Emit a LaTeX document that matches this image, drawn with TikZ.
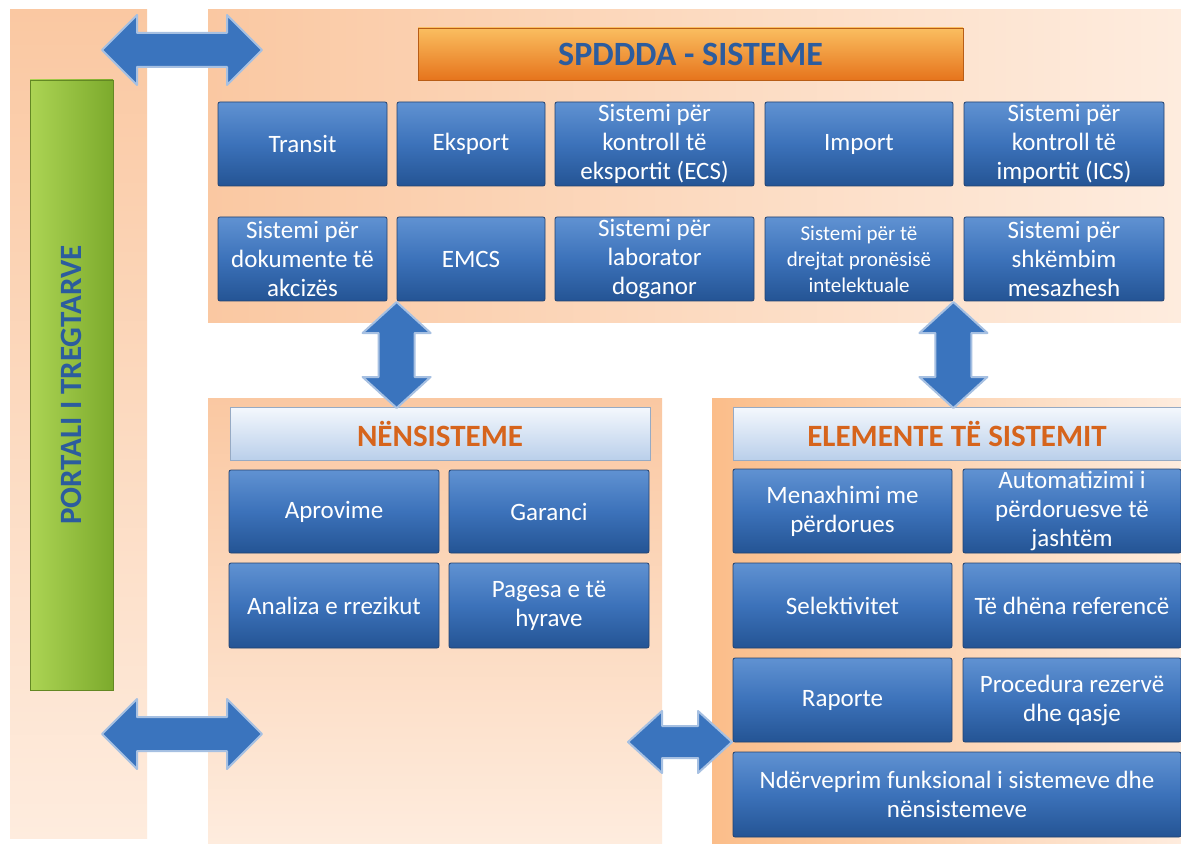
\documentclass[tikz,border=0pt]{standalone}
\usepackage{fontspec}
\setmainfont{Carlito}
\usepackage{xcolor}

\definecolor{peach}{RGB}{250,200,162}
\definecolor{peachlt}{RGB}{254,236,222}
\definecolor{boxtop}{RGB}{96,146,210}
\definecolor{boxmid}{RGB}{60,114,186}
\definecolor{boxbot}{RGB}{36,84,148}
\definecolor{boxline}{RGB}{34,66,112}
\definecolor{headtop}{RGB}{244,248,253}
\definecolor{headbot}{RGB}{186,207,234}
\definecolor{headline}{RGB}{150,170,196}
\definecolor{ortop}{RGB}{250,190,96}
\definecolor{orbot}{RGB}{230,116,28}
\definecolor{greenlt}{RGB}{172,212,84}
\definecolor{greendk}{RGB}{124,170,44}
\definecolor{arrowblue}{RGB}{58,116,190}
\definecolor{titleblue}{RGB}{44,92,158}
\definecolor{titleorange}{RGB}{214,100,28}

\tikzset{
  sysbox/.style={draw=boxline, top color=boxtop, bottom color=boxbot, middle color=boxmid,
    text=white, align=center, inner sep=1pt, rounded corners=1pt,
    font=\fontsize{12.5}{14.5}\selectfont},
  headbox/.style={draw=headline, top color=headtop, bottom color=headbot,
    text=titleorange, inner sep=1pt, font=\fontsize{15.5}{17}\selectfont\bfseries},
  barrow/.style={fill=arrowblue, draw=arrowblue!45!white, line width=1pt, line join=round}
}

\begin{document}
\begin{tikzpicture}[x=0.5pt,y=-0.5pt]
\useasboundingbox (0,0) rectangle (1181,844);
\fill[white] (0,0) rectangle (1181,844);

% panels
\fill[top color=peach, bottom color=peachlt] (10,10) rectangle (147,838);
\fill[left color=peach, right color=peachlt] (208,10) rectangle (1181,322);
\fill[top color=peach, bottom color=peachlt] (208,398) rectangle (662,844);
\fill[left color=peach!85!orange, right color=peachlt] (712,398) rectangle (1181,844);

% portal
\node[draw=greendk!80!black, left color=greenlt, right color=greendk, rotate=90,
  minimum width=305pt, minimum height=41.5pt, inner sep=0pt,
  text=titleblue, font=\fontsize{15.5}{17}\selectfont\bfseries] (portal) at (71.5,385) {PORTALI I TREGTARVE};

% SPDDDA - sisteme
\node[draw=orbot!80!black, top color=ortop, bottom color=orbot, minimum width=272.5pt, minimum height=26pt,
  text=titleblue, font=\fontsize{17}{19}\selectfont\bfseries] (spd) at (690.5,54) {SPDDDA - SISTEME};

\node[sysbox, minimum width=84.5pt, minimum height=42pt] (transit) at (302.5,144) {Transit};
\node[sysbox, minimum width=74pt, minimum height=42pt] (eksport) at (471,144) {Eksport};
\node[sysbox, minimum width=99.5pt, minimum height=42pt] (ecs) at (654.5,144) {Sistemi për\\kontroll të\\eksportit (ECS)};
\node[sysbox, minimum width=94pt, minimum height=42pt] (import) at (859,144) {Import};
\node[sysbox, minimum width=100pt, minimum height=42pt] (ics) at (1064,144) {Sistemi për\\kontroll të\\importit (ICS)};

\node[sysbox, minimum width=84.5pt, minimum height=42pt] (akciza) at (302.5,259) {Sistemi për\\dokumente të\\akcizës};
\node[sysbox, minimum width=74pt, minimum height=42pt] (emcs) at (471,259) {EMCS};
\node[sysbox, minimum width=99.5pt, minimum height=42pt] (lab) at (654.5,259) {Sistemi për\\laborator\\doganor};
\node[sysbox, minimum width=94pt, minimum height=42pt, font=\fontsize{10.5}{13}\selectfont] (ipr) at (859,259) {Sistemi për të\\drejtat pronësisë\\intelektuale};
\node[sysbox, minimum width=100pt, minimum height=42pt] (msg) at (1064,259) {Sistemi për\\shkëmbim\\mesazhesh};

% nensisteme
\node[headbox, minimum width=210pt, minimum height=26.5pt] (nen) at (440,433.5) {NËNSISTEME};
\node[sysbox, minimum width=105pt, minimum height=41.5pt] (aprov) at (334,511.5) {Aprovime};
\node[sysbox, minimum width=100pt, minimum height=41.5pt] (garanci) at (549,511.5) {Garanci};
\node[sysbox, minimum width=105pt, minimum height=42.5pt] (rrezik) at (334,605.5) {Analiza e rrezikut};
\node[sysbox, minimum width=100pt, minimum height=42.5pt] (pagesa) at (549,605.5) {Pagesa e të\\hyrave};

% elemente te sistemit
\node[headbox, minimum width=224pt, minimum height=26.5pt] (elem) at (957,433.5) {ELEMENTE TË SISTEMIT};
\node[sysbox, minimum width=109.5pt, minimum height=42pt] (menax) at (842.5,511) {Menaxhimi me\\përdorues};
\node[sysbox, minimum width=109pt, minimum height=42pt] (autom) at (1072,511) {Automatizimi i\\përdoruesve të\\jashtëm};
\node[sysbox, minimum width=109.5pt, minimum height=42.5pt] (selekt) at (842.5,605.5) {Selektivitet};
\node[sysbox, minimum width=109pt, minimum height=42.5pt] (refer) at (1072,605.5) {Të dhëna referencë};
\node[sysbox, minimum width=109.5pt, minimum height=42pt] (raport) at (842.5,700) {Raporte};
\node[sysbox, minimum width=109pt, minimum height=42pt] (rezerv) at (1072,700) {Procedura rezervë\\dhe qasje};
\node[sysbox, minimum width=224pt, minimum height=42.5pt] (nderv) at (957,794.5) {Ndërveprim funksional i sistemeve dhe\\nënsistemeve};

% block arrows
\coordinate (a1) at (182,50);
\coordinate (a2) at (182,734);
\coordinate (a3) at (680,742);
\coordinate (v1) at (emcs.south west |- 0,355);
\coordinate (v2) at (ipr.south east |- 0,355);
\filldraw[barrow,shift={(a1)}] (-80,0) -- (-45,-35) -- (-45,-17) -- (45,-17) -- (45,-35) -- (80,0)
  -- (45,35) -- (45,17) -- (-45,17) -- (-45,35) -- cycle;
\filldraw[barrow,shift={(a2)}] (-80,0) -- (-45,-35) -- (-45,-17) -- (45,-17) -- (45,-35) -- (80,0)
  -- (45,35) -- (45,17) -- (-45,17) -- (-45,35) -- cycle;
\filldraw[barrow,shift={(a3)}] (-52,0) -- (-18,-31) -- (-18,-16) -- (18,-16) -- (18,-31) -- (52,0)
  -- (18,31) -- (18,16) -- (-18,16) -- (-18,31) -- cycle;
\filldraw[barrow,shift={(v1)}] (0,-53) -- (34,-22) -- (18,-22) -- (18,22) -- (34,22) -- (0,53)
  -- (-34,22) -- (-18,22) -- (-18,-22) -- (-34,-22) -- cycle;
\filldraw[barrow,shift={(v2)}] (0,-53) -- (34,-22) -- (18,-22) -- (18,22) -- (34,22) -- (0,53)
  -- (-34,22) -- (-18,22) -- (-18,-22) -- (-34,-22) -- cycle;
\end{tikzpicture}
\end{document}
